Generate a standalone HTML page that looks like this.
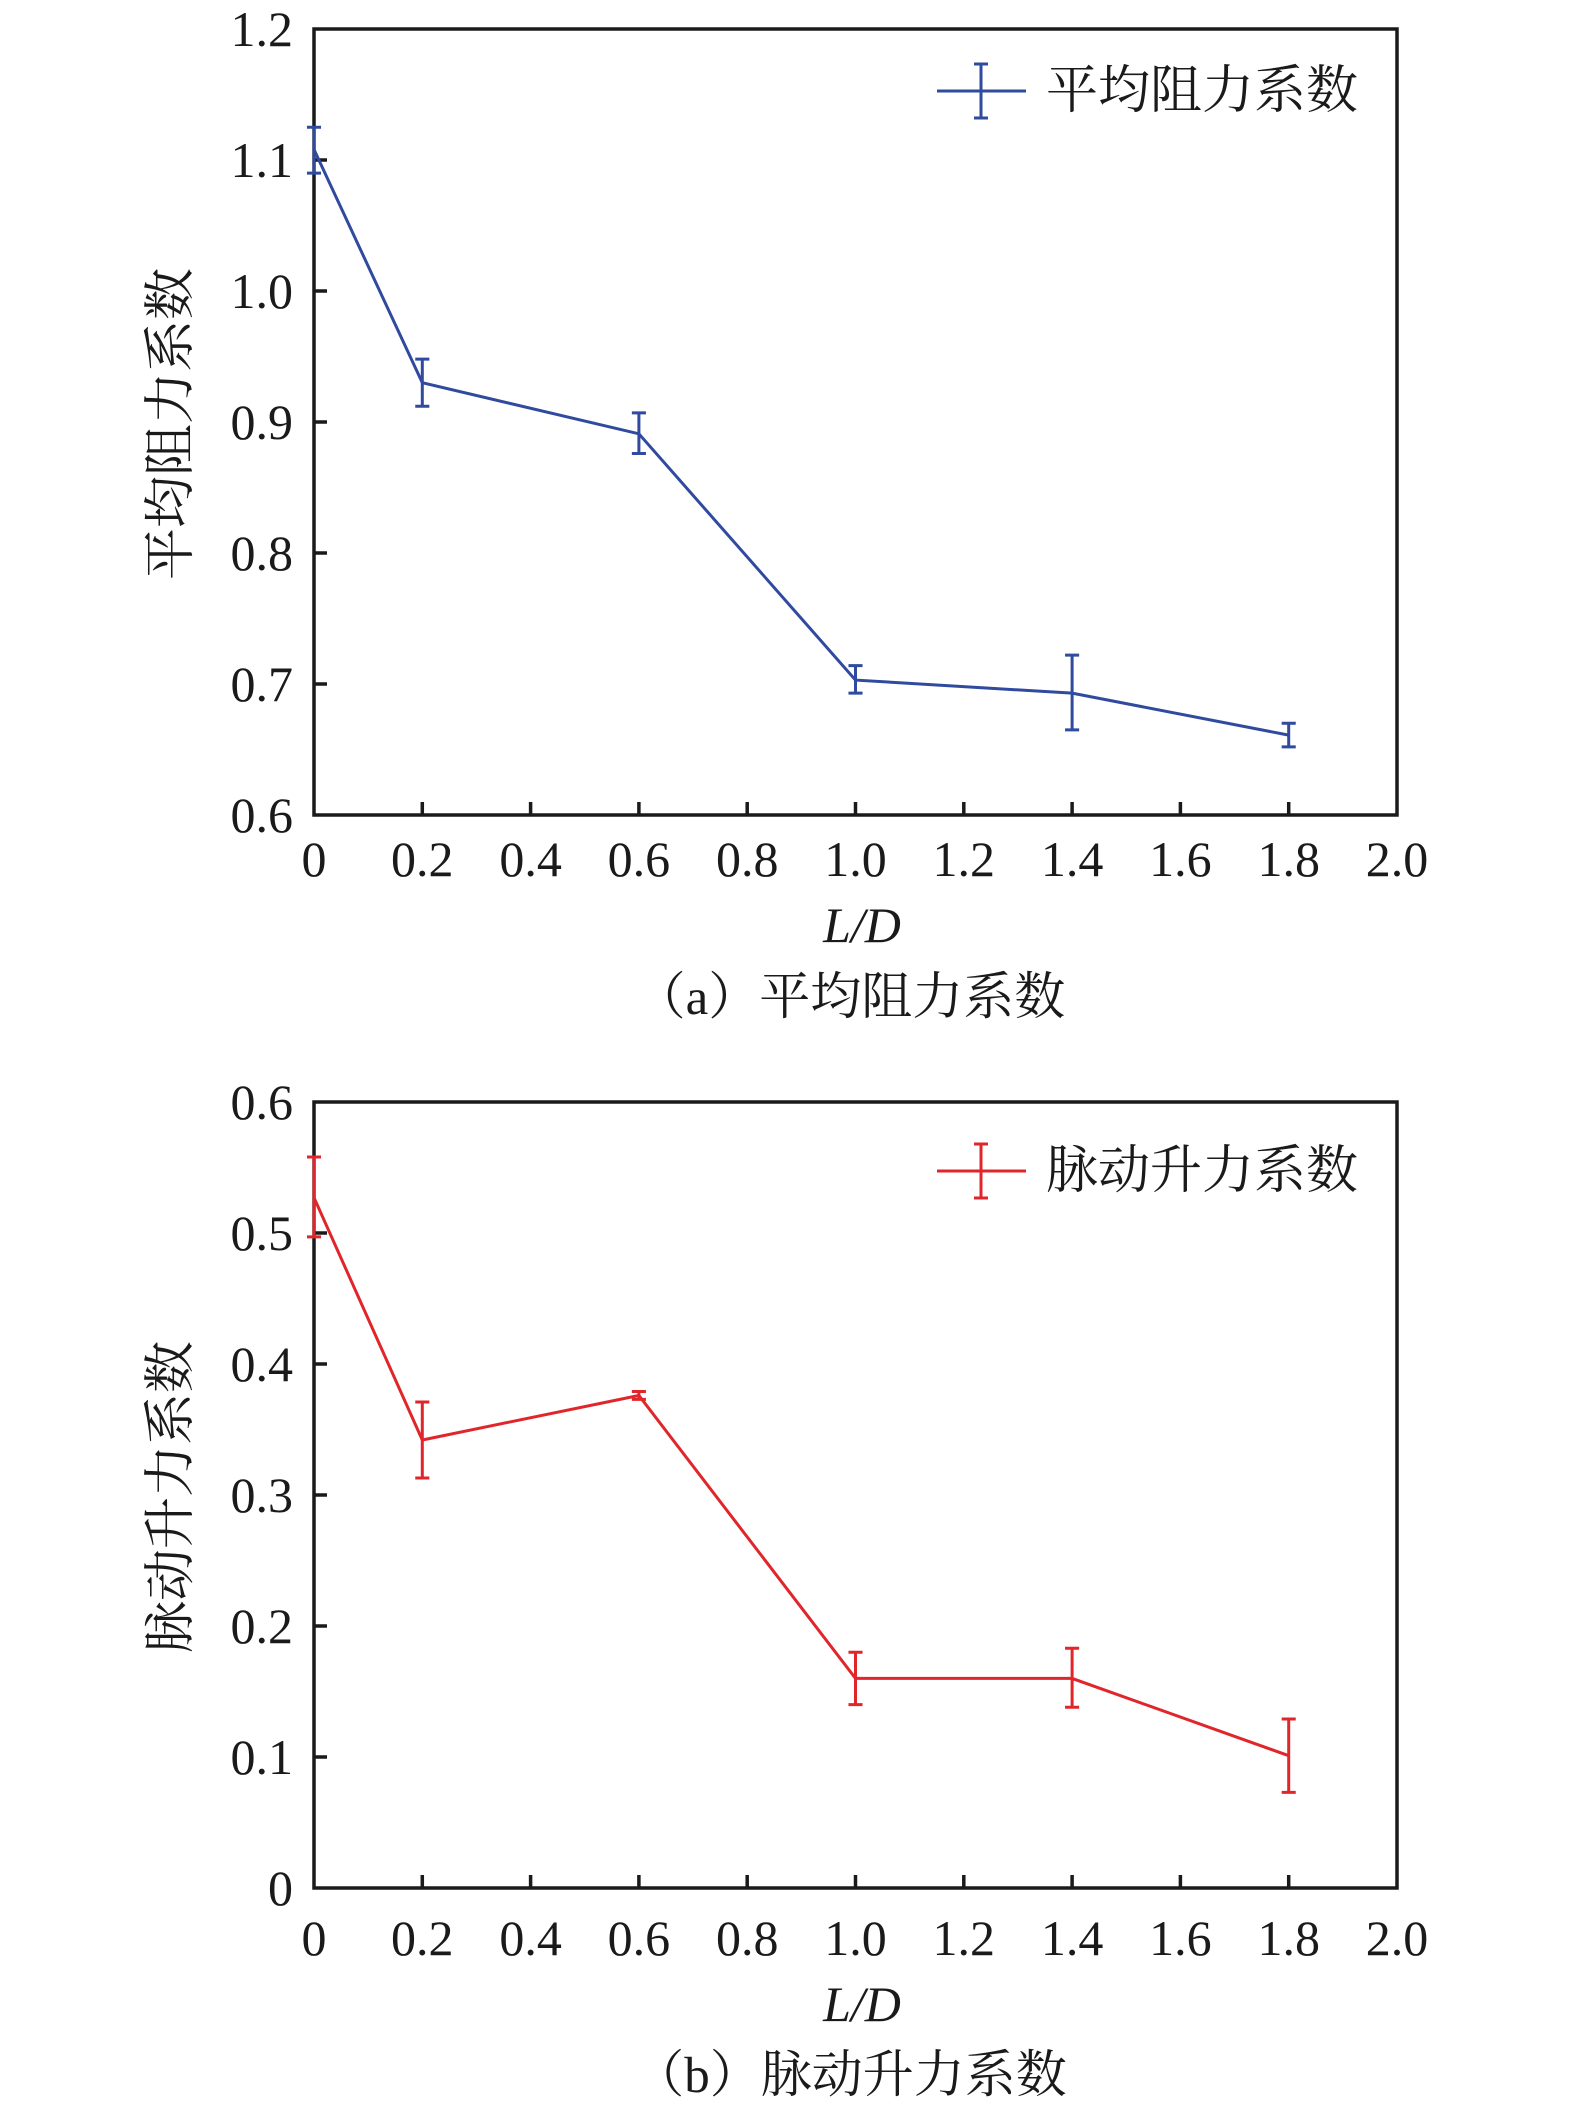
<!DOCTYPE html>
<html><head><meta charset="utf-8"><style>
html,body{margin:0;padding:0;background:#fff}
svg text{font-family:"Liberation Serif","DejaVu Serif",serif;fill:#1a1a1a}
svg text.cjk{font-family:"Liberation Serif","Noto Serif CJK SC","Noto Sans CJK SC",serif}
</style></head><body>
<svg width="1575" height="2104" viewBox="0 0 1575 2104" xmlns="http://www.w3.org/2000/svg">
<!-- Plot A -->
<g stroke="#1a1a1a" stroke-width="3.5" fill="none">
<rect x="314" y="29" width="1083" height="786"/>
<path d="M422.3 815v-13M530.6 815v-13M638.9 815v-13M747.2 815v-13M855.5 815v-13M963.8 815v-13M1072.1 815v-13M1180.4 815v-13M1288.7 815v-13
M314 684h13M314 553h13M314 422h13M314 291h13M314 160h13"/>
</g>
<g transform="translate(314,1601) scale(541.5,-1310)" fill="none" stroke="#2f4a9e" stroke-width="3">
<polyline vector-effect="non-scaling-stroke" points="0,1.108 0.2,0.930 0.6,0.891 1.0,0.703 1.4,0.693 1.8,0.661"/>
<path vector-effect="non-scaling-stroke" d="M0 1.125V1.090M-0.013 1.125H0.013M-0.013 1.090H0.013
M0.2 0.948V0.912M0.187 0.948H0.213M0.187 0.912H0.213
M0.6 0.907V0.876M0.587 0.907H0.613M0.587 0.876H0.613
M1.0 0.714V0.693M0.987 0.714H1.013M0.987 0.693H1.013
M1.4 0.722V0.665M1.387 0.722H1.413M1.387 0.665H1.413
M1.8 0.670V0.652M1.787 0.670H1.813M1.787 0.652H1.813"/>
</g>
<g stroke="#2f4a9e" stroke-width="3" fill="none"><path d="M937 91H1026M981 64V118M974 64H988M974 118H988"/></g>
<text class="cjk" x="1046" y="108" font-size="52">平均阻力系数</text>
<g font-size="50" text-anchor="end">
<text x="293" y="832">0.6</text><text x="293" y="701">0.7</text><text x="293" y="570">0.8</text>
<text x="293" y="439">0.9</text><text x="293" y="308">1.0</text><text x="293" y="177">1.1</text><text x="293" y="46">1.2</text>
</g>
<g font-size="50" text-anchor="middle">
<text x="314" y="876">0</text><text x="422.3" y="876">0.2</text><text x="530.6" y="876">0.4</text><text x="638.9" y="876">0.6</text><text x="747.2" y="876">0.8</text><text x="855.5" y="876">1.0</text><text x="963.8" y="876">1.2</text><text x="1072.1" y="876">1.4</text><text x="1180.4" y="876">1.6</text><text x="1288.7" y="876">1.8</text><text x="1397" y="876">2.0</text>
<text x="862" y="942" font-style="italic">L/D</text>
<text x="850" y="1014" class="cjk" font-size="51">（a）平均阻力系数</text>
</g>
<text class="cjk" font-size="52" text-anchor="middle" transform="translate(188,424) rotate(-90)">平均阻力系数</text>

<!-- Plot B -->
<g stroke="#1a1a1a" stroke-width="3.5" fill="none">
<rect x="314" y="1102" width="1083" height="786"/>
<path d="M422.3 1888v-13M530.6 1888v-13M638.9 1888v-13M747.2 1888v-13M855.5 1888v-13M963.8 1888v-13M1072.1 1888v-13M1180.4 1888v-13M1288.7 1888v-13
M314 1757h13M314 1626h13M314 1495h13M314 1364h13M314 1233h13"/>
</g>
<g transform="translate(314,1888) scale(541.5,-1310)" fill="none" stroke="#e0262b" stroke-width="3">
<polyline vector-effect="non-scaling-stroke" points="0,0.527 0.2,0.342 0.6,0.376 1.0,0.160 1.4,0.160 1.8,0.101"/>
<path vector-effect="non-scaling-stroke" d="M0 0.558V0.497M-0.013 0.558H0.013M-0.013 0.497H0.013
M0.2 0.371V0.313M0.187 0.371H0.213M0.187 0.313H0.213
M0.6 0.379V0.373M0.587 0.379H0.613M0.587 0.373H0.613
M1.0 0.180V0.140M0.987 0.180H1.013M0.987 0.140H1.013
M1.4 0.183V0.138M1.387 0.183H1.413M1.387 0.138H1.413
M1.8 0.129V0.073M1.787 0.129H1.813M1.787 0.073H1.813"/>
</g>
<g stroke="#e0262b" stroke-width="3" fill="none"><path d="M937 1171H1026M981 1144V1198M974 1144H988M974 1198H988"/></g>
<text class="cjk" x="1046" y="1188" font-size="52">脉动升力系数</text>
<g font-size="50" text-anchor="end">
<text x="293" y="1905">0</text><text x="293" y="1774">0.1</text><text x="293" y="1643">0.2</text>
<text x="293" y="1512">0.3</text><text x="293" y="1381">0.4</text><text x="293" y="1250">0.5</text><text x="293" y="1119">0.6</text>
</g>
<g font-size="50" text-anchor="middle">
<text x="314" y="1955">0</text><text x="422.3" y="1955">0.2</text><text x="530.6" y="1955">0.4</text><text x="638.9" y="1955">0.6</text><text x="747.2" y="1955">0.8</text><text x="855.5" y="1955">1.0</text><text x="963.8" y="1955">1.2</text><text x="1072.1" y="1955">1.4</text><text x="1180.4" y="1955">1.6</text><text x="1288.7" y="1955">1.8</text><text x="1397" y="1955">2.0</text>
<text x="862" y="2021" font-style="italic">L/D</text>
<text x="850" y="2092" class="cjk" font-size="51">（b）脉动升力系数</text>
</g>
<text class="cjk" font-size="52" text-anchor="middle" transform="translate(188,1497) rotate(-90)">脉动升力系数</text>
</svg>
</body></html>
